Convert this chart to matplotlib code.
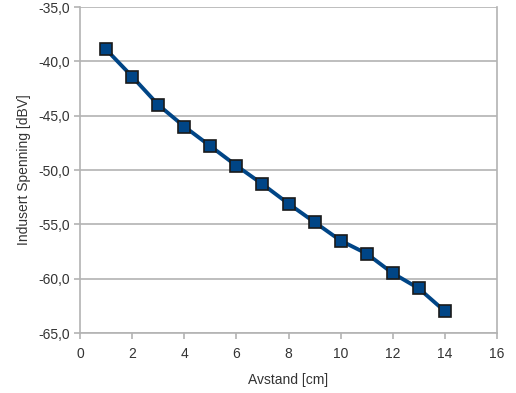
import matplotlib
matplotlib.use('Agg')
import matplotlib.pyplot as plt
from matplotlib.ticker import FuncFormatter

avstand = [1, 2, 3, 4, 5, 6, 7, 8, 9, 10, 11, 12, 13, 14]
spenning = [-38.9, -41.4, -44.0, -46.0, -47.8, -49.6, -51.3, -53.1, -54.8, -56.5, -57.7, -59.5, -60.9, -63.0]

plt.rcParams['font.family'] = ['Liberation Sans', 'DejaVu Sans']

fig = plt.figure(figsize=(5.16, 3.93), dpi=100)
ax = fig.add_axes([80 / 516, 60 / 393, 417 / 516, 326 / 393])

grid_col = '#b3b3b3'
ax.plot(avstand, spenning, color='#004586', linewidth=2.8, marker='s', markersize=9,
        markerfacecolor='#004586', markeredgecolor='#1a1a1a', markeredgewidth=1.2, zorder=3)

ax.set_xlim(0, 16)
ax.set_ylim(-65, -35)
ax.set_xticks(range(0, 17, 2))
ax.set_yticks(range(-65, -34, 5))
ax.yaxis.set_major_formatter(FuncFormatter(lambda v, p: f'{v:.1f}'.replace('.', ',')))
ax.grid(axis='y', color=grid_col, linewidth=1.2)
for s in ax.spines.values():
    s.set_color(grid_col)
    s.set_linewidth(1.2)
ax.spines['top'].set_visible(False)
ax.tick_params(colors=grid_col, labelcolor='#333333', labelsize=10, length=4, width=1.2)
ax.tick_params(axis='x', pad=6)

ax.set_xlabel('Avstand [cm]', fontsize=10, color='#333333', labelpad=9)
ax.set_ylabel('Indusert Spenning [dBV]', fontsize=10, color='#333333', labelpad=5)

fig.savefig('out.png', dpi=100)
